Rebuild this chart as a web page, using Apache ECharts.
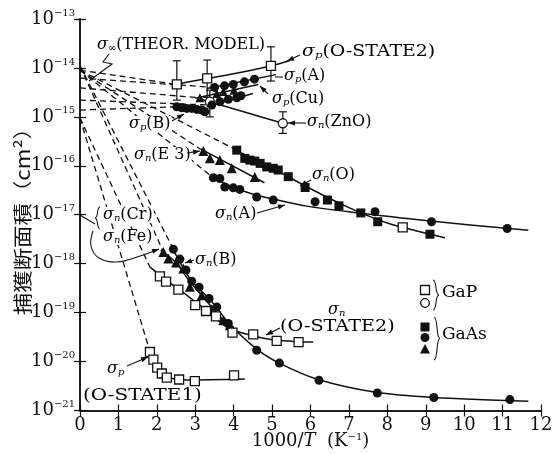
<!DOCTYPE html>
<html>
<head>
<meta charset="utf-8">
<script src="https://cdn.jsdelivr.net/npm/echarts@6/dist/echarts.min.js"></script>
<style>
  html, body { margin: 0; padding: 0; background: #fff; }
  #c { width: 552px; height: 454px; }
</style>
</head>
<body>
<div id="c"></div>
<script>
// Capture cross-sections vs 1000/T for deep levels in GaP and GaAs.
// x: 1000/T (1/K), y: cross-section (cm^2), log scale.

const xTickValues = [0, 1, 2, 3, 4, 5, 6, 7, 8, 9, 10, 11, 12];
const yDecades = [-21, -20, -19, -18, -17, -16, -15, -14, -13];

// ---- measured points ----
// GaP, open squares: sigma_p (O-STATE2) with error bars
const gapPOState2 = [[2.52, 4.6e-15], [3.31, 6.1e-15], [4.97, 1.1e-14]];
const gapPOState2Err = [[2.52, 2.2e-15, 1.4e-14], [3.31, 2.5e-15, 1.45e-14], [4.97, 5.4e-15, 2.7e-14]];
// ZnO, open circles: sigma_n with error bars
const znoN = [[3.38, 2.04e-15], [5.28, 7.4e-16]];
const znoNErr = [[3.38, 1.0e-15, 3.5e-15], [5.28, 4.6e-16, 1.27e-15]];
// GaAs sigma_p (A), filled circles
const gaasPA = [[3.50, 4.0e-15], [3.76, 4.3e-15], [3.99, 4.6e-15], [4.28, 5.2e-15], [4.54, 5.9e-15]];
// GaAs sigma_p (Cu): triangles and circles
const gaasPCuTri = [[3.12, 2.46e-15], [3.56, 3.0e-15], [3.73, 3.3e-15], [4.01, 3.5e-15]];
const gaasPCuCirc = [[3.43, 1.74e-15], [3.64, 2.04e-15], [3.86, 2.28e-15], [4.08, 2.46e-15], [4.19, 2.7e-15]];
// GaAs sigma_p (B), filled circles
const gaasPB = [[2.52, 1.61e-15], [2.65, 1.54e-15], [2.78, 1.49e-15], [2.91, 1.49e-15], [3.04, 1.42e-15], [3.17, 1.38e-15], [3.25, 1.27e-15]];
// GaAs sigma_n (E3), triangles
const gaasNE3 = [[3.21, 2.0e-16], [3.38, 1.42e-16], [3.64, 1.31e-16], [3.95, 8.9e-17], [4.55, 5.9e-17]];
// GaAs sigma_n (O), filled squares
const gaasNO = [[4.08, 2.09e-16], [4.29, 1.42e-16], [4.42, 1.31e-16], [4.55, 1.25e-16], [4.69, 1.12e-16], [4.86, 9.5e-17],
  [5.03, 8.9e-17], [5.16, 8.2e-17], [5.42, 6.0e-17], [5.86, 3.6e-17], [6.44, 2.0e-17], [6.74, 1.52e-17],
  [7.31, 1.09e-17], [7.75, 7.2e-18], [9.11, 4.0e-18]];
// GaP sigma_n (O), open square
const gapNO = [[8.40, 5.5e-18]];
// GaAs sigma_n (A), filled circles
const gaasNA = [[3.47, 5.7e-17], [3.64, 5.5e-17], [3.77, 3.7e-17], [3.99, 3.55e-17], [4.16, 3.3e-17], [4.60, 2.3e-17],
  [5.03, 2.0e-17], [6.12, 1.84e-17], [7.68, 1.15e-17], [9.15, 7.2e-18], [11.12, 5.25e-18]];
// GaAs sigma_n (B) / (Cr) / (Fe): triangles and circles
const gaasNBTri = [[2.17, 1.74e-18], [2.30, 1.28e-18], [2.50, 1.06e-18], [2.69, 8.0e-19], [2.86, 3.36e-19],
  [3.17, 2.27e-19], [3.43, 1.17e-19], [3.73, 7.0e-20], [3.90, 5.5e-20]];
const gaasNBCirc = [[2.43, 1.98e-18], [2.60, 1.24e-18], [2.76, 7.4e-19], [2.91, 4.4e-19], [3.10, 3.3e-19], [3.36, 1.94e-19],
  [3.56, 1.31e-19], [3.86, 6.0e-20], [4.60, 1.70e-20], [5.19, 9.3e-21], [6.22, 4.15e-21], [7.74, 2.28e-21],
  [9.21, 1.84e-21], [11.19, 1.67e-21]];
// GaP sigma_n (O-STATE2), open squares
const gapNOState2 = [[2.08, 5.5e-19], [2.24, 4.3e-19], [2.56, 2.94e-19], [3.0, 1.42e-19], [3.28, 1.08e-19], [3.54, 8.4e-20],
  [3.97, 3.9e-20], [4.51, 3.6e-20], [5.12, 2.64e-20], [5.69, 2.5e-20]];
// GaP sigma_p (O-STATE1), open squares
const gapPOState1 = [[1.82, 1.57e-20], [1.91, 1.10e-20], [2.01, 7.5e-21], [2.13, 5.7e-21], [2.26, 4.7e-21], [2.58, 4.3e-21],
  [2.99, 4.0e-21], [4.01, 5.2e-21]];

// ---- drawn trend curves ----
const fitPOState2 = [[2.4, 4.5e-15], [3.31, 6.1e-15], [4.2, 8.2e-15], [4.97, 1.1e-14], [5.45, 1.4e-14]];
const fitPA = [[3.3, 3.8e-15], [5.1, 7.3e-15]];
const fitPCuTri = [[3.0, 2.4e-15], [4.64, 4.6e-15]];
const fitPCuCirc = [[3.3, 1.6e-15], [4.5, 3.0e-15]];
const fitZnO = [[3.15, 2.3e-15], [5.3, 7.3e-16]];
const fitNE3 = [[3.15, 2.2e-16], [4.8, 4.5e-17]];
const fitNO = [[4.0, 2.2e-16], [5.0, 9e-17], [6.0, 3.4e-17], [7.0, 1.4e-17], [8.0, 6.8e-18], [9.5, 3.4e-18]];
const fitNA = [[3.4, 6.2e-17], [4.0, 3.6e-17], [4.6, 2.5e-17], [5.2, 1.95e-17], [5.9, 1.5e-17], [7.0, 1.15e-17], [9.0, 7.6e-18], [11.67, 4.8e-18]];
const fitNBTri = [[2.1, 1.9e-18], [2.5, 1.05e-18], [2.8, 5e-19], [3.2, 2.1e-19], [3.7, 7.5e-20], [4.0, 5e-20]];
const fitNBCirc = [[2.4, 2.1e-18], [2.9, 4.5e-19], [3.4, 1.8e-19], [3.9, 5.8e-20], [4.6, 1.8e-20], [5.2, 9.2e-21],
  [6.2, 4.3e-21], [7.7, 2.35e-21], [9.2, 1.85e-21], [11.67, 1.55e-21]];
const fitNOState2 = [[1.82, 8.5e-19], [2.3, 4.3e-19], [2.8, 2.2e-19], [3.3, 1.1e-19], [3.8, 5.2e-20], [4.3, 3.7e-20], [5.0, 2.8e-20], [6.07, 2.5e-20]];
const fitPOState1 = [[1.82, 1.6e-20], [1.95, 1.0e-20], [2.1, 6.2e-21], [2.35, 4.6e-21], [2.8, 4.2e-21], [4.29, 4.4e-21]];

// ---- extrapolations to 1000/T = 0 (sigma_inf) ----
const extrapolations = [
  [[0, 9e-15], [2.52, 4.6e-15]],
  [[0, 6.2e-15], [3.5, 4.0e-15]],
  [[0, 3.9e-15], [3.12, 2.46e-15]],
  [[0, 2.2e-15], [3.43, 1.74e-15]],
  [[0, 1.38e-15], [2.52, 1.61e-15]],
  [[0, 9e-15], [3.21, 2.0e-16]],
  [[0, 9e-15], [4.08, 2.09e-16]],
  [[0, 9e-15], [3.47, 5.7e-17]],
  [[0, 1.1e-14], [2.17, 1.74e-18]],
  [[0, 1.1e-14], [2.43, 1.98e-18]],
  [[0, 9.5e-16], [1.82, 8.5e-19]],
  [[0, 9.5e-16], [1.82, 1.6e-20]]
];

const INK = '#111';
const FONT = 'DejaVu Serif';

function points(data, symbol, filled, size) {
  return {
    type: 'scatter', data, symbol, symbolSize: size, z: 6, silent: true,
    itemStyle: { color: filled ? INK : '#fff', borderColor: INK, borderWidth: filled ? 0 : 1.3, opacity: 1 }
  };
}
function curve(data, dashed) {
  return {
    type: 'line', data, symbol: 'none', smooth: dashed ? false : 0.3, z: dashed ? 2 : 3, silent: true,
    lineStyle: { color: INK, width: dashed ? 1.3 : 1.5, type: dashed ? [6, 4] : 'solid' }
  };
}
function errorBars(data) {
  return {
    type: 'custom', data, z: 4, silent: true,
    encode: { x: 0, y: [1, 2] },
    renderItem(params, api) {
      const x = api.value(0);
      const lo = api.coord([x, api.value(1)]);
      const hi = api.coord([x, api.value(2)]);
      const w = 4;
      const st = { stroke: INK, lineWidth: 1.2 };
      return {
        type: 'group', children: [
          { type: 'line', shape: { x1: lo[0], y1: lo[1], x2: hi[0], y2: hi[1] }, style: st },
          { type: 'line', shape: { x1: lo[0] - w, y1: lo[1], x2: lo[0] + w, y2: lo[1] }, style: st },
          { type: 'line', shape: { x1: hi[0] - w, y1: hi[1], x2: hi[0] + w, y2: hi[1] }, style: st }
        ]
      };
    }
  };
}

const series = [];
extrapolations.forEach(seg => series.push(curve(seg, true)));
[fitPOState2, fitPA, fitPCuTri, fitPCuCirc, fitZnO, fitNE3, fitNO, fitNA, fitNBTri, fitNBCirc, fitNOState2, fitPOState1]
  .forEach(c => series.push(curve(c, false)));
series.push(errorBars(gapPOState2Err));
series.push(errorBars(znoNErr));
series.push(points(gapPOState2, 'rect', false, 9));
series.push(points(znoN, 'circle', false, 9));
series.push(points(gaasPA, 'circle', true, 9));
series.push(points(gaasPCuTri, 'triangle', true, 9));
series.push(points(gaasPCuCirc, 'circle', true, 9));
series.push(points(gaasPB, 'circle', true, 9));
series.push(points(gaasNE3, 'triangle', true, 10));
series.push(points(gaasNO, 'rect', true, 9));
series.push(points(gapNO, 'rect', false, 9));
series.push(points(gaasNA, 'circle', true, 9));
series.push(points(gaasNBTri, 'triangle', true, 10));
series.push(points(gaasNBCirc, 'circle', true, 9));
series.push(points(gapNOState2, 'rect', false, 9));
series.push(points(gapPOState1, 'rect', false, 9));

// ---- annotation helpers (text, pointers, braces) ----
const rich = {
  g: { fontFamily: FONT, fontSize: 16, fontStyle: 'italic', color: INK },
  sb: { fontFamily: FONT, fontSize: 10, fontStyle: 'italic', verticalAlign: 'bottom', color: INK },
  t: { fontFamily: FONT, fontSize: 16, color: INK },
  tl: { fontFamily: FONT, fontSize: 17, color: INK }
};
function label(x, y, text, masked, stretch) {
  const style = { text, rich, align: 'left', verticalAlign: 'middle', textAlign: 'left', textVerticalAlign: 'middle' };
  if (masked) { style.backgroundColor = '#fff'; style.padding = [0, 1]; }
  const el = { type: 'text', x, y, silent: true, z: 10, style };
  if (stretch) el.scaleX = stretch;
  return el;
}
const sig = (sub, rest) => `{g|σ}{sb|${sub}}` + (rest ? `{t|${rest}}` : '');

function pointer(pts, head, smooth) {
  const els = [{ type: 'polyline', silent: true, z: 11, shape: { points: pts, smooth: smooth || 0 },
    style: { stroke: INK, lineWidth: 1.1, fill: null } }];
  if (head) {
    const [x1, y1] = pts[pts.length - 2];
    const [x2, y2] = pts[pts.length - 1];
    const a = Math.atan2(y2 - y1, x2 - x1);
    const L = 7, W = 2.6;
    els.push({ type: 'polygon', silent: true, z: 11, shape: { points: [
      [x2, y2],
      [x2 - L * Math.cos(a) + W * Math.sin(a), y2 - L * Math.sin(a) - W * Math.cos(a)],
      [x2 - L * Math.cos(a) - W * Math.sin(a), y2 - L * Math.sin(a) + W * Math.cos(a)]
    ] }, style: { fill: INK } });
  }
  return els;
}
function brace(x0, y0, y1, w) {
  // w > 0 : "}" with its tip to the right; w < 0 : "{"
  const ym = (y0 + y1) / 2;
  const st = { stroke: INK, lineWidth: 1.1, fill: null };
  return [
    { type: 'bezierCurve', silent: true, z: 11, shape: { x1: x0, y1: y0, cpx1: x0 + w * 0.7, cpy1: y0, cpx2: x0 + w * 0.3, cpy2: ym, x2: x0 + w, y2: ym }, style: st },
    { type: 'bezierCurve', silent: true, z: 11, shape: { x1: x0, y1: y1, cpx1: x0 + w * 0.7, cpy1: y1, cpx2: x0 + w * 0.3, cpy2: ym, x2: x0 + w, y2: ym }, style: st }
  ];
}

const graphic = [
  // vertical axis title
  { type: 'text', x: 23, y: 216, rotation: Math.PI / 2, scaleX: 1.18, silent: true, z: 10,
    style: { text: '捕獲断面積（cm²）', font: '19px "Noto Sans CJK JP"', fill: INK,
      align: 'center', verticalAlign: 'middle', textAlign: 'center', textVerticalAlign: 'middle' } },
  label(97, 45, sig('∞', '(THEOR. MODEL)')),
  label(302, 52, sig('p', '(O-STATE2)'), false, 1.18),
  label(284, 76, sig('p', '(A)')),
  label(272, 99, sig('p', '(Cu)')),
  label(307, 122, sig('n', '(ZnO)')),
  label(128, 124, sig('p', '(B)'), true),
  label(133, 155, sig('n', '(E 3)'), true),
  label(312, 175, sig('n', '(O)')),
  label(215, 214, sig('n', '(A)')),
  label(102, 215, sig('n', '(Cr)'), true),
  label(102, 237, sig('n', '(Fe)'), true),
  label(195, 260, sig('n', '(B)')),
  label(328, 310, sig('n', '')),
  label(280, 327, '{t|(O-STATE2)}', false, 1.2),
  label(107, 369, sig('p', '')),
  label(83, 396, '{tl|(O-STATE1)}', false, 1.17),
  label(442, 293, '{tl|GaP}'),
  label(442, 335, '{tl|GaAs}'),
  ...pointer([[109, 54], [103, 62], [112, 64], [89, 81]], false),
  ...pointer([[300, 55], [287, 61]], true),
  ...pointer([[283, 77], [275, 77]], false),
  ...pointer([[268, 94], [260, 86]], true),
  ...pointer([[306, 123], [288, 123]], true),
  ...pointer([[172, 121], [184, 114]], true),
  ...pointer([[187, 153], [200, 151]], true),
  ...pointer([[311, 180], [300, 186]], true),
  ...pointer([[257, 213], [285, 205]], true),
  ...pointer([[80, 215], [95, 224]], false),
  ...pointer([[93, 231], [91, 246], [99, 258], [117, 262], [140, 256], [159, 249]], true, 0.4),
  ...pointer([[194, 260], [185, 263]], true),
  ...pointer([[280, 328], [266, 335]], true),
  ...pointer([[127, 366], [148, 357]], true),
  ...brace(100, 207, 229, -5),
  ...brace(433, 280, 310, 6),
  ...brace(434, 317, 360, 6),
  // legend keys
  { type: 'rect', silent: true, z: 10, shape: { x: 420.5, y: 285.5, width: 9, height: 9 }, style: { fill: '#fff', stroke: INK, lineWidth: 1.3 } },
  { type: 'circle', silent: true, z: 10, shape: { cx: 425, cy: 303, r: 4.3 }, style: { fill: '#fff', stroke: INK, lineWidth: 1.3 } },
  { type: 'rect', silent: true, z: 10, shape: { x: 420.5, y: 322.5, width: 9, height: 9 }, style: { fill: INK } },
  { type: 'circle', silent: true, z: 10, shape: { cx: 425, cy: 337.5, r: 4.5 }, style: { fill: INK } },
  { type: 'polygon', silent: true, z: 10, shape: { points: [[425, 344], [420, 353.5], [430, 353.5]] }, style: { fill: INK } }
];

const axisLineStyle = { color: INK, width: 1.5 };
const tickStyle = { inside: true, length: 6, lineStyle: { color: INK, width: 1.2 } };
// a hair below 1e-21 so that the bottom decade keeps its tick and label
const yMin = Math.pow(10, yDecades[0]) * 0.99999;
const yMax = Math.pow(10, yDecades[yDecades.length - 1]);

const option = {
  animation: false,
  backgroundColor: '#fff',
  grid: { left: 80, right: 11, top: 19, bottom: 43.5, outerBoundsMode: 'none' },
  xAxis: [
    {
      type: 'value', min: xTickValues[0], max: xTickValues[xTickValues.length - 1], interval: 1,
      axisLine: { lineStyle: axisLineStyle }, axisTick: tickStyle, splitLine: { show: false },
      axisLabel: { color: INK, fontFamily: FONT, fontSize: 18, margin: 6, showMinLabel: true, showMaxLabel: true },
      name: '1000/{i|T}  (K{e|−1})', nameLocation: 'middle', nameGap: 22, nameMoveOverlap: false,
      nameTextStyle: {
        color: INK, fontFamily: FONT, fontSize: 18,
        rich: {
          i: { fontFamily: FONT, fontSize: 18, fontStyle: 'italic', color: INK },
          e: { fontFamily: FONT, fontSize: 10, verticalAlign: 'top', color: INK }
        }
      }
    },
    {
      type: 'value', position: 'top', min: xTickValues[0], max: xTickValues[xTickValues.length - 1], interval: 1,
      axisLine: { lineStyle: axisLineStyle }, axisTick: tickStyle, splitLine: { show: false }, axisLabel: { show: false }
    }
  ],
  yAxis: [
    {
      type: 'log', logBase: 10, min: yMin, max: yMax, splitNumber: 8,
      axisLine: { lineStyle: axisLineStyle }, axisTick: tickStyle, splitLine: { show: false }, minorTick: { show: false },
      axisLabel: {
        margin: 5, color: INK, showMinLabel: true, showMaxLabel: true, hideOverlap: false,
        formatter: v => `{b|10}{e|−${-Math.round(Math.log10(v))}}`,
        rich: {
          b: { fontFamily: FONT, fontSize: 18, color: INK, lineHeight: 22 },
          e: { fontFamily: FONT, fontSize: 10, color: INK, verticalAlign: 'top' }
        }
      }
    },
    {
      type: 'log', logBase: 10, position: 'right', min: yMin, max: yMax, splitNumber: 8,
      axisLine: { lineStyle: axisLineStyle }, axisTick: tickStyle, splitLine: { show: false }, minorTick: { show: false },
      axisLabel: { show: false }
    }
  ],
  series,
  graphic
};

const chart = echarts.init(document.getElementById('c'));
chart.setOption(option);
</script>
</body>
</html>
